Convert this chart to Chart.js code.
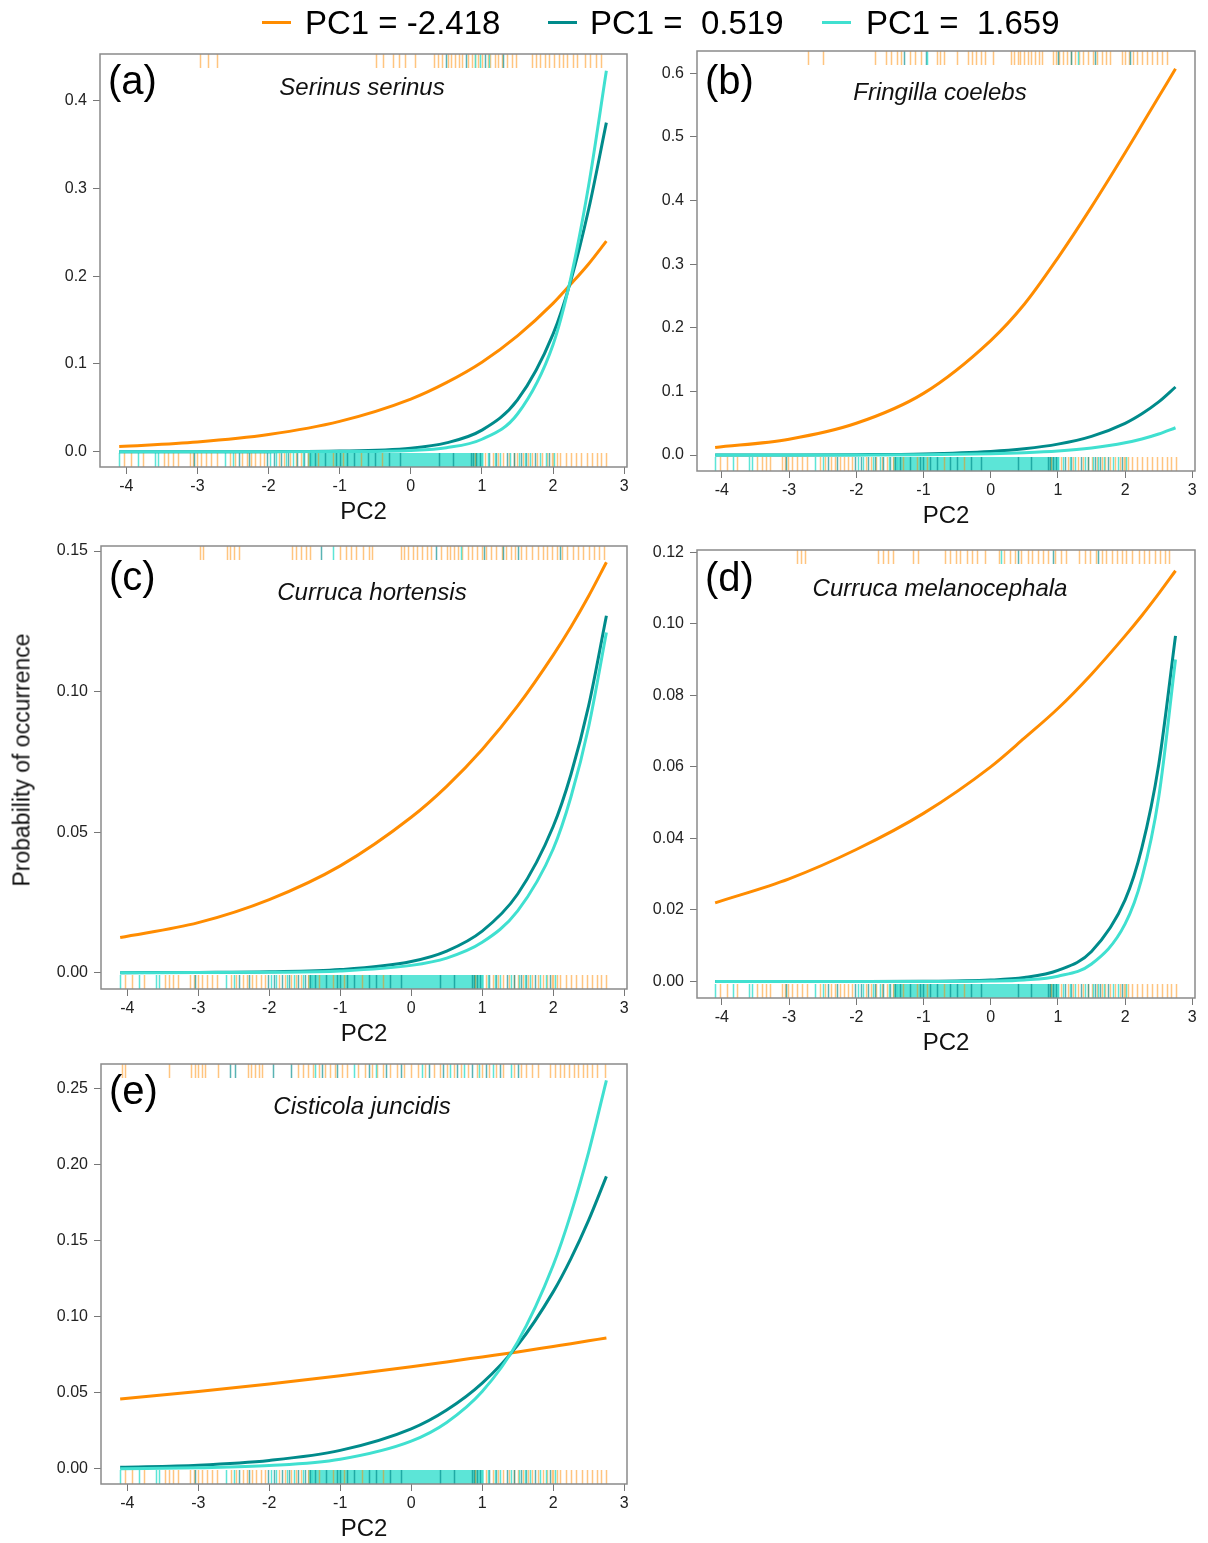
<!DOCTYPE html>
<html>
<head>
<meta charset="utf-8">
<script src="https://cdn.jsdelivr.net/npm/chart.js@4.4.1/dist/chart.umd.min.js"></script>
<style>
  body { margin: 0; background: #fff; font-family: "Liberation Sans", Arial, sans-serif; }
  #page { position: relative; width: 1208px; height: 1543px; overflow: hidden; background: #fff; }
  canvas { position: absolute; }
  .txt { position: absolute; white-space: pre; color: #111; line-height: 1; }
  .mid { transform: translate(-50%, -50%); }
  .leg-line { position: absolute; height: 3px; }
</style>
</head>
<body>
<div id="page"></div>
<script>
// Partial-effect curves: probability of occurrence vs PC2 for three PC1 levels.

const SERIES_LABELS = ["PC1 = -2.418", "PC1 =  0.519", "PC1 =  1.659"];
const SERIES_COLORS = ["#ff8c00", "#008b8b", "#40e0d0"];
const RUG_COLORS = ["rgba(255,140,0,0.5)", "rgba(0,139,139,0.65)", "rgba(64,224,208,0.85)"];

const pc2Grid = [-4.1, -3, -2, -1, 0, 0.5, 1, 1.5, 2, 2.25, 2.5, 2.75];
const xTicks = [-4, -3, -2, -1, 0, 1, 2, 3];

// (a) Serinus serinus
const aOrange = [0.0059, 0.0111, 0.0196, 0.0346, 0.060, 0.0787, 0.102, 0.132, 0.169, 0.191, 0.214, 0.240];
const aTeal   = [0.0000, 0.00002, 0.0001, 0.0007, 0.0041, 0.0101, 0.0246, 0.059, 0.134, 0.195, 0.276, 0.375];
const aCyan   = [0.0000, 0.0000, 0.00002, 0.00015, 0.0015, 0.0046, 0.0142, 0.043, 0.122, 0.198, 0.303, 0.434];
const yTicksA = [0, 0.1, 0.2, 0.3, 0.4];

// (b) Fringilla coelebs
const bOrange = [0.012, 0.025, 0.050, 0.097, 0.180, 0.237, 0.310, 0.390, 0.475, 0.519, 0.563, 0.607];
const bTeal   = [0.00006, 0.0002, 0.00065, 0.0019, 0.0058, 0.0100, 0.0172, 0.0295, 0.050, 0.065, 0.0836, 0.107];
const bCyan   = [0.00002, 0.00008, 0.00024, 0.0007, 0.0022, 0.0038, 0.0065, 0.0113, 0.0193, 0.0253, 0.0331, 0.043];
const yTicksB = [0, 0.1, 0.2, 0.3, 0.4, 0.5, 0.6];

// (c) Curruca hortensis
const cOrange = [0.0125, 0.0178, 0.026, 0.038, 0.0553, 0.0663, 0.0794, 0.0949, 0.113, 0.123, 0.134, 0.146];
const cTeal   = [0.00002, 0.0001, 0.0003, 0.0011, 0.0040, 0.0077, 0.0148, 0.028, 0.052, 0.0705, 0.095, 0.127];
const cCyan   = [0.000007, 0.00003, 0.00014, 0.0006, 0.0026, 0.0052, 0.0108, 0.022, 0.044, 0.0625, 0.0875, 0.121];
const yTicksC = [0, 0.05, 0.10, 0.15];

// (d) Curruca melanocephala
const dOrange = [0.022, 0.0287, 0.0369, 0.047, 0.060, 0.068, 0.0763, 0.0859, 0.0966, 0.1023, 0.1084, 0.1148];
const dTeal   = [0, 0, 0.00001, 0.00005, 0.0004, 0.0011, 0.0031, 0.0084, 0.0228, 0.0374, 0.0606, 0.0966];
const dCyan   = [0, 0, 0, 0.00001, 0.00013, 0.00045, 0.0015, 0.0049, 0.0161, 0.0289, 0.0515, 0.090];
const yTicksD = [0, 0.02, 0.04, 0.06, 0.08, 0.10, 0.12];

// (e) Cisticola juncidis
const eOrange = [0.046, 0.0509, 0.0559, 0.0613, 0.0672, 0.0704, 0.0737, 0.077, 0.0806, 0.0824, 0.0843, 0.0862];
const eTeal   = [0.0011, 0.0025, 0.0056, 0.0122, 0.0264, 0.0388, 0.0565, 0.0815, 0.1165, 0.1384, 0.1637, 0.1925];
const eCyan   = [0.0002, 0.0008, 0.0022, 0.0064, 0.0183, 0.0306, 0.0509, 0.0836, 0.134, 0.168, 0.2085, 0.2557];
const yTicksE = [0, 0.05, 0.10, 0.15, 0.20, 0.25];

// rug of sites along PC2 (bottom, same for every species)
const rugBottomOrange = [-4.03, -3.93, -3.77, -3.47, -3.41, -3.35, -3.28, -3.11, -3.06, -3.01, -2.95, -2.88, -2.81, -2.73,
  -2.54, -2.47, -2.37, -2.31, -2.24, -2.19, -2.12, -2.06, -1.86, -1.78, -1.7, -1.62, -1.55, -1.45, -1.3, -1.1, -0.95,
  -0.7, -0.4, 0.9, 1.05, 1.15, 1.22, 1.3, 1.38, 1.45, 1.5, 1.58, 1.65, 1.7, 1.78, 1.85, 1.92, 1.98, 2.0, 2.05, 2.1,
  2.18, 2.25, 2.32, 2.4, 2.48, 2.55, 2.62, 2.68, 2.75];
const rugBottomTeal = [-3.05, -2.42, -2.28, -2.02, -1.93, -1.82, -1.72, -1.6, -1.5, -1.42, -1.35, -1.2, -1.05, -1.0,
  -0.9, -0.8, -0.6, -0.5, -0.3, -0.15, 0.4, 0.6, 0.85, 0.88, 0.92, 0.97, 1.1, 1.2, 1.35, 1.45, 1.55, 1.62, 1.75, 1.95];
const rugBottomCyan = [-4.1, -3.83, -3.6, -3.55, -2.61, -2.5, -1.98, -1.9, -1.75, -1.65, -1.52, -1.4, 1.0, 1.08, 1.18,
  1.25, 1.4, 1.52, 1.6, 1.68, 1.82, 1.9, 2.02];
const rugBottomBand = [-1.45, 1.02];

// rugs of presences (top), per species
const rugTopOrangeA = [-2.96, -2.85, -2.73, -0.49, -0.39, -0.25, -0.17, -0.08, 0.06, 0.32, 0.38, 0.44, 0.52, 0.57, 0.62,
  0.68, 0.72, 0.8, 0.86, 0.9, 0.95, 1.0, 1.08, 1.12, 1.18, 1.22, 1.28, 1.35, 1.42, 1.48, 1.7, 1.76, 1.82, 1.88, 1.95,
  2.02, 2.08, 2.14, 2.2, 2.28, 2.34, 2.45, 2.52, 2.6, 2.68];
const rugTopTealA = [0.49, 0.78, 1.04, 1.3];
const rugTopCyanA = [0.9, 0.98, 1.1];

const rugTopOrangeB = [-2.72, -2.5, -1.72, -1.56, -1.48, -1.4, -1.34, -1.2, -1.13, -1.04, -0.8, -0.75, -0.7, -0.5, -0.34,
  -0.28, -0.22, -0.15, -0.08, 0.03, 0.3, 0.35, 0.4, 0.44, 0.5, 0.55, 0.6, 0.66, 0.72, 0.76, 0.92, 0.97, 1.02, 1.08,
  1.14, 1.2, 1.26, 1.32, 1.38, 1.45, 1.52, 1.58, 1.65, 1.72, 1.78, 1.95, 2.0, 2.06, 2.12, 2.18, 2.25, 2.32, 2.4, 2.47,
  2.55, 2.62];
const rugTopTealB = [-1.29, -0.97, 1.0, 1.2, 1.55, 2.08];
const rugTopCyanB = [-0.95, 1.3];

const rugTopOrangeC = [-2.97, -2.93, -2.6, -2.55, -2.5, -2.42, -1.68, -1.62, -1.55, -1.48, -1.42, -1.0, -0.92, -0.85,
  -0.78, -0.68, -0.6, -0.55, -0.15, -0.1, -0.05, 0.02, 0.08, 0.15, 0.22, 0.28, 0.42, 0.5, 0.55, 0.6, 0.66, 0.72, 0.8,
  0.86, 0.92, 1.0, 1.06, 1.12, 1.2, 1.28, 1.34, 1.4, 1.46, 1.55, 1.62, 1.7, 1.78, 1.85, 1.92, 1.98, 2.05, 2.12, 2.2,
  2.28, 2.35, 2.42, 2.5, 2.58, 2.65, 2.72];
const rugTopTealC = [-1.27, 0.35, 1.02, 1.3, 1.5, 2.1];
const rugTopCyanC = [-1.1, 0.7];

const rugTopOrangeD = [-2.88, -2.82, -2.76, -1.68, -1.6, -1.53, -1.46, -1.16, -1.08, -0.68, -0.6, -0.52, -0.45, -0.35,
  -0.28, -0.2, -0.09, 0.13, 0.2, 0.28, 0.36, 0.45, 0.55, 0.62, 0.7, 0.78, 0.86, 0.95, 1.05, 1.12, 1.32, 1.4, 1.48,
  1.56, 1.65, 1.72, 1.8, 1.88, 1.95, 2.02, 2.1, 2.2, 2.28, 2.36, 2.45, 2.52, 2.6, 2.66];
const rugTopTealD = [0.4, 0.92, 1.6];
const rugTopCyanD = [0.15];

const rugTopOrangeE = [-4.08, -4.03, -3.41, -3.1, -3.05, -3.0, -2.95, -2.9, -2.72, -2.3, -2.25, -2.2, -2.15, -2.1,
  -1.59, -1.52, -1.45, -1.38, -1.3, -1.22, -1.15, -1.08, -0.98, -0.9, -0.75, -0.65, -0.55, -0.48, -0.4, -0.3, -0.2,
  -0.1, 0.0, 0.1, 0.2, 0.32, 0.4, 0.5, 0.6, 0.7, 0.8, 0.92, 1.0, 1.1, 1.2, 1.3, 1.45, 1.55, 1.62, 1.7, 1.78, 1.95, 2.02,
  2.1, 2.15, 2.22, 2.3, 2.35, 2.42, 2.48, 2.55, 2.62, 2.73];
const rugTopTealE = [-2.55, -2.48, -1.94, -1.69, -1.25, -1.05, -0.6, -0.35, -0.15, 0.25, 0.45, 0.65, 0.85, 1.05, 1.25, 1.5];
const rugTopCyanE = [-1.35, -0.8, -0.5, 0.15, 0.55, 0.75, 0.95, 1.15, 1.4];

// ---- layout ----
const FONT = '"Liberation Sans", Arial, sans-serif';
const X_MIN = -4.37, X_MAX = 3.04;
const YW = 80;   // room for the y ticks
const XH = 66;   // room for the x ticks + PC2
const PAD = 20;  // top/right slack so tick labels don't shrink the plot box
const RUG_LEN = 14;

const PANELS = [
  { tag: "(a)", name: "Serinus serinus", box: [100, 54, 627, 467], ylim: [-0.0174, 0.4532], yTicks: yTicksA, dec: 1,
    curves: [aOrange, aTeal, aCyan], top: [rugTopOrangeA, rugTopTealA, rugTopCyanA], tagY: 80, nameAt: [362, 87] },
  { tag: "(b)", name: "Fringilla coelebs", box: [697, 51, 1195, 471], ylim: [-0.025, 0.635], yTicks: yTicksB, dec: 1,
    curves: [bOrange, bTeal, bCyan], top: [rugTopOrangeB, rugTopTealB, rugTopCyanB], tagY: 80, nameAt: [940, 92] },
  { tag: "(c)", name: "Curruca hortensis", box: [101, 546, 627, 989], ylim: [-0.0058, 0.1518], yTicks: yTicksC, dec: 2,
    curves: [cOrange, cTeal, cCyan], top: [rugTopOrangeC, rugTopTealC, rugTopCyanC], tagY: 576, nameAt: [372, 592] },
  { tag: "(d)", name: "Curruca melanocephala", box: [697, 550, 1195, 998], ylim: [-0.0046, 0.1206], yTicks: yTicksD, dec: 2,
    curves: [dOrange, dTeal, dCyan], top: [rugTopOrangeD, rugTopTealD, rugTopCyanD], tagY: 577, nameAt: [940, 588] },
  { tag: "(e)", name: "Cisticola juncidis", box: [101, 1064, 627, 1484], ylim: [-0.0099, 0.2664], yTicks: yTicksE, dec: 2,
    curves: [eOrange, eTeal, eCyan], top: [rugTopOrangeE, rugTopTealE, rugTopCyanE], tagY: 1090, nameAt: [362, 1106] },
];

const page = document.getElementById("page");

function addText(str, css) {
  const d = document.createElement("div");
  d.className = "txt";
  d.textContent = str;
  Object.assign(d.style, css);
  page.appendChild(d);
  return d;
}

// rug ticks + dense band, placed through the x scale
const rugPlugin = {
  id: "rug",
  beforeDatasetsDraw(chart, args, opts) {
    const { ctx, chartArea: a } = chart;
    const x = chart.scales.x;
    ctx.save();
    ctx.lineWidth = 1.5;
    const bandL = x.getPixelForValue(opts.band[0]);
    const bandR = x.getPixelForValue(opts.band[1]);
    ctx.fillStyle = RUG_COLORS[2];
    ctx.fillRect(bandL, a.bottom - RUG_LEN, bandR - bandL, RUG_LEN);
    const drawSet = (vals, color, y0, y1) => {
      ctx.strokeStyle = color;
      ctx.beginPath();
      vals.forEach((v) => {
        const px = Math.round(x.getPixelForValue(v)) + 0.5;
        ctx.moveTo(px, y0);
        ctx.lineTo(px, y1);
      });
      ctx.stroke();
    };
    opts.bottom.forEach((vals, i) => drawSet(vals, RUG_COLORS[i], a.bottom, a.bottom - RUG_LEN));
    opts.top.forEach((vals, i) => drawSet(vals, RUG_COLORS[i], a.top, a.top + RUG_LEN));
    ctx.restore();
  },
};

const boxPlugin = {
  id: "box",
  afterDraw(chart) {
    const { ctx, chartArea: a } = chart;
    ctx.save();
    ctx.strokeStyle = "#8a8a8a";
    ctx.lineWidth = 1.5;
    ctx.strokeRect(a.left, a.top, a.right - a.left, a.bottom - a.top);
    ctx.restore();
  },
};

function makePanel(p) {
  const [L, T, R, B] = p.box;
  const w = YW + (R - L) + PAD;
  const h = PAD + (B - T) + XH;
  const cv = document.createElement("canvas");
  cv.width = w; cv.height = h;
  cv.style.left = (L - YW) + "px";
  cv.style.top = (T - PAD) + "px";
  cv.style.width = w + "px";
  cv.style.height = h + "px";
  page.appendChild(cv);

  const grid = { drawOnChartArea: false, tickLength: 7, color: "#777", lineWidth: 1 };
  new Chart(cv, {
    type: "line",
    data: {
      datasets: p.curves.map((vals, i) => ({
        label: SERIES_LABELS[i],
        data: pc2Grid.map((x, k) => ({ x, y: vals[k] })),
        borderColor: SERIES_COLORS[i],
        borderWidth: 3,
        pointRadius: 0,
        cubicInterpolationMode: "monotone",
        fill: false,
        order: 3 - i,
      })),
    },
    options: {
      responsive: false,
      animation: false,
      events: [],
      layout: { padding: { top: PAD, right: PAD, left: 0, bottom: 0 } },
      plugins: {
        legend: { display: false },
        tooltip: { enabled: false },
        rug: { bottom: [rugBottomOrange, rugBottomTeal, rugBottomCyan], band: rugBottomBand, top: p.top },
      },
      scales: {
        x: {
          type: "linear", min: X_MIN, max: X_MAX,
          afterFit: (s) => { s.height = XH; },
          afterBuildTicks: (s) => { s.ticks = xTicks.map((v) => ({ value: v })); },
          grid, border: { display: false },
          ticks: { font: { size: 16, family: FONT }, color: "#222", padding: 3, maxRotation: 0, autoSkip: false },
          title: { display: true, text: "PC2", font: { size: 24, family: FONT }, color: "#111", padding: { top: 0, bottom: 6 } },
        },
        y: {
          type: "linear", min: p.ylim[0], max: p.ylim[1],
          afterFit: (s) => { s.width = YW; },
          afterBuildTicks: (s) => { s.ticks = p.yTicks.map((v) => ({ value: v })); },
          grid, border: { display: false },
          ticks: { font: { size: 16, family: FONT }, color: "#222", padding: 6, autoSkip: false,
            callback: (v) => Number(v).toFixed(p.dec) },
        },
      },
    },
    plugins: [rugPlugin, boxPlugin],
  });

  addText(p.tag, { left: (L + 8) + "px", top: p.tagY + "px", fontSize: "40px", color: "#000", transform: "translateY(-50%)" });
  const nm = addText(p.name, { left: p.nameAt[0] + "px", top: p.nameAt[1] + "px", fontSize: "24px", fontStyle: "italic" });
  nm.classList.add("mid");
}

PANELS.forEach(makePanel);

// shared legend along the top
const LEGEND_X = [[262, 305], [548, 590], [822, 866]];
SERIES_LABELS.forEach((lab, i) => {
  const ln = document.createElement("div");
  ln.className = "leg-line";
  Object.assign(ln.style, { left: LEGEND_X[i][0] + "px", top: "21px", width: "29px", background: SERIES_COLORS[i] });
  page.appendChild(ln);
  addText(lab, { left: LEGEND_X[i][1] + "px", top: "22px", fontSize: "33px", color: "#000", transform: "translateY(-50%)" });
});

// common y title
addText("Probability of occurrence", { left: "22px", top: "760px", fontSize: "23px", transform: "translate(-50%, -50%) rotate(-90deg)" });
</script>
</body>
</html>
